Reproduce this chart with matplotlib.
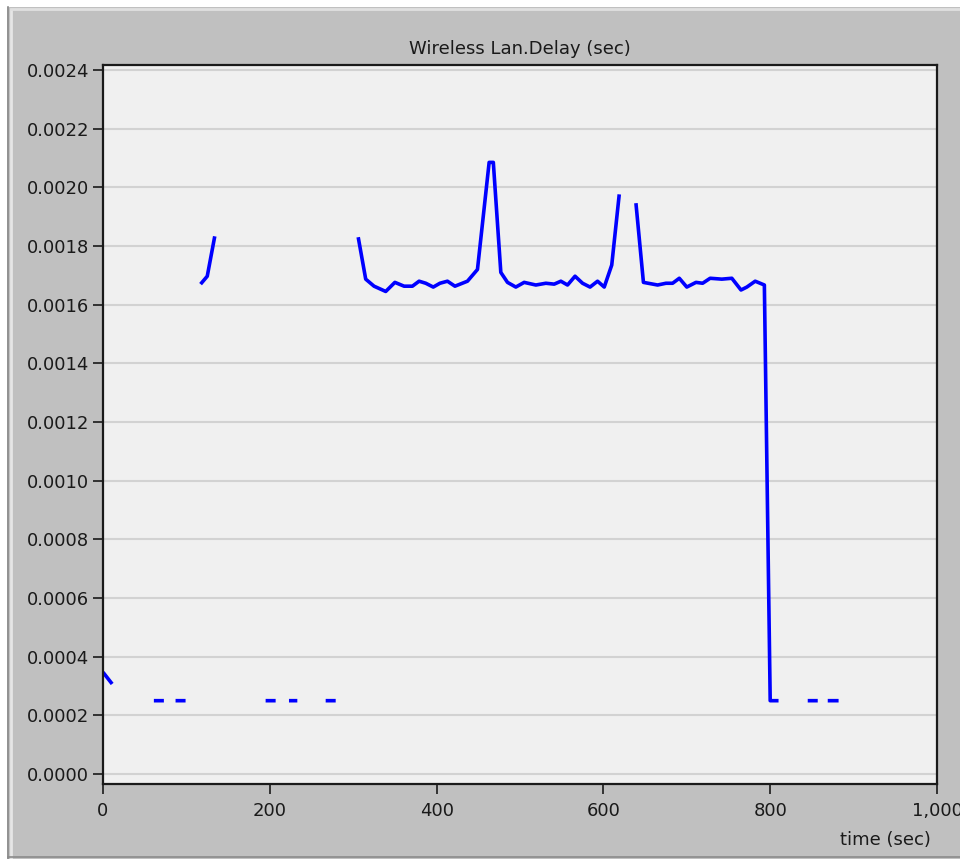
import numpy as np
import matplotlib
matplotlib.use("Agg")
import matplotlib.pyplot as plt
from matplotlib.patches import Rectangle
from matplotlib.lines import Line2D

# Wireless LAN delay samples; NaN breaks the trace where no data was collected
time_s = [0, 11, np.nan,
          61, 73, np.nan, 87, 99, np.nan,
          117, 125, 134, np.nan,
          195, 207, np.nan, 223, 233, np.nan, 267, 279, np.nan,
          306, 315, 325, 339, 350, 361, 371, 379, 387, 396, 404, 413, 422,
          437, 449, 463, 468, 477, 485, 495, 505, 519, 531, 541, 549, 557,
          566, 575, 584, 593, 601, 610, 619, np.nan,
          639, 648, 665, 675, 683, 691, 700, 711, 719, 728, 742, 754, 765,
          772, 782, 793, 800, 810, np.nan,
          845, 857, np.nan, 869, 882]
delay_s = [0.000347, 0.000307, np.nan,
           0.00025, 0.00025, np.nan, 0.00025, 0.00025, np.nan,
           0.001670, 0.001697, 0.001833, np.nan,
           0.00025, 0.00025, np.nan, 0.00025, 0.00025, np.nan, 0.00025, 0.00025, np.nan,
           0.001830, 0.001687, 0.001663, 0.001645, 0.001676, 0.001663, 0.001663,
           0.001680, 0.001673, 0.001660, 0.001673, 0.001680, 0.001663, 0.001680,
           0.001720, 0.002085, 0.002085, 0.001710, 0.001676, 0.001660, 0.001676,
           0.001667, 0.001673, 0.001670, 0.001680, 0.001667, 0.001697, 0.001673,
           0.001660, 0.001680, 0.001660, 0.001735, 0.001976, np.nan,
           0.001946, 0.001676, 0.001667, 0.001673, 0.001673, 0.001690, 0.001660,
           0.001676, 0.001673, 0.001690, 0.001687, 0.001690, 0.001650, 0.001660,
           0.001680, 0.001667, 0.00025, 0.00025, np.nan,
           0.00025, 0.00025, np.nan, 0.00025, 0.00025]

x_ticks = [0, 200, 400, 600, 800, 1000]
x_tick_labels = ["0", "200", "400", "600", "800", "1,000"]
y_ticks = [i * 0.0002 for i in range(13)]

W, H = 960, 859
fig = plt.figure(figsize=(W / 100, H / 100), dpi=100, facecolor="#c0c0c0")

# window frame around the chart panel
fig.add_artist(Rectangle((0, 1 - 7 / H), 1, 7 / H, transform=fig.transFigure,
                         facecolor="white", edgecolor="none"))
fig.add_artist(Rectangle((0, 0), 7 / W, 1, transform=fig.transFigure,
                         facecolor="white", edgecolor="none"))
fig.add_artist(Line2D([8 / W, 8 / W], [0, 1 - 7 / H], transform=fig.transFigure,
                      color="#8a8a8a", lw=1.2))
fig.add_artist(Line2D([11 / W, 11 / W], [2 / H, 1 - 10 / H], transform=fig.transFigure,
                      color="#e6e6e6", lw=2))
fig.add_artist(Line2D([11 / W, 1], [1 - 9 / H, 1 - 9 / H], transform=fig.transFigure,
                      color="#e0e0e0", lw=2))
fig.add_artist(Line2D([8 / W, 1], [2 / H, 2 / H], transform=fig.transFigure,
                      color="#8a8a8a", lw=1.2))

ax = fig.add_axes([103 / W, 75 / H, (937 - 103) / W, (784 - 65) / H])
ax.set_facecolor("#f0f0f0")

ax.plot(time_s, delay_s, color="#0000ff", lw=2.6, solid_capstyle="butt",
        solid_joinstyle="round")

ax.set_xlim(0, 1000)
ax.set_ylim(-0.000034, 0.002417)
ax.set_xticks(x_ticks)
ax.set_xticklabels(x_tick_labels)
ax.set_yticks(y_ticks)
ax.set_yticklabels([f"{v:.4f}" for v in y_ticks])
ax.yaxis.grid(True, color="#d2d2d2", lw=1.5)
ax.set_axisbelow(True)

for side in ax.spines.values():
    side.set_color("#1a1a1a")
    side.set_linewidth(1.6)
ax.tick_params(axis="both", direction="out", length=7, width=1.2,
               colors="#1a1a1a", labelsize=13, pad=3)
ax.tick_params(axis="x", pad=6)

ax.set_title("Wireless Lan.Delay (sec)", fontsize=13, color="#1a1a1a", pad=8)
fig.text(885 / W, 1 - 840 / H, "time (sec)", ha="center", va="center",
         fontsize=13, color="#1a1a1a")

fig.savefig("out.png", dpi=100, facecolor=fig.get_facecolor())
